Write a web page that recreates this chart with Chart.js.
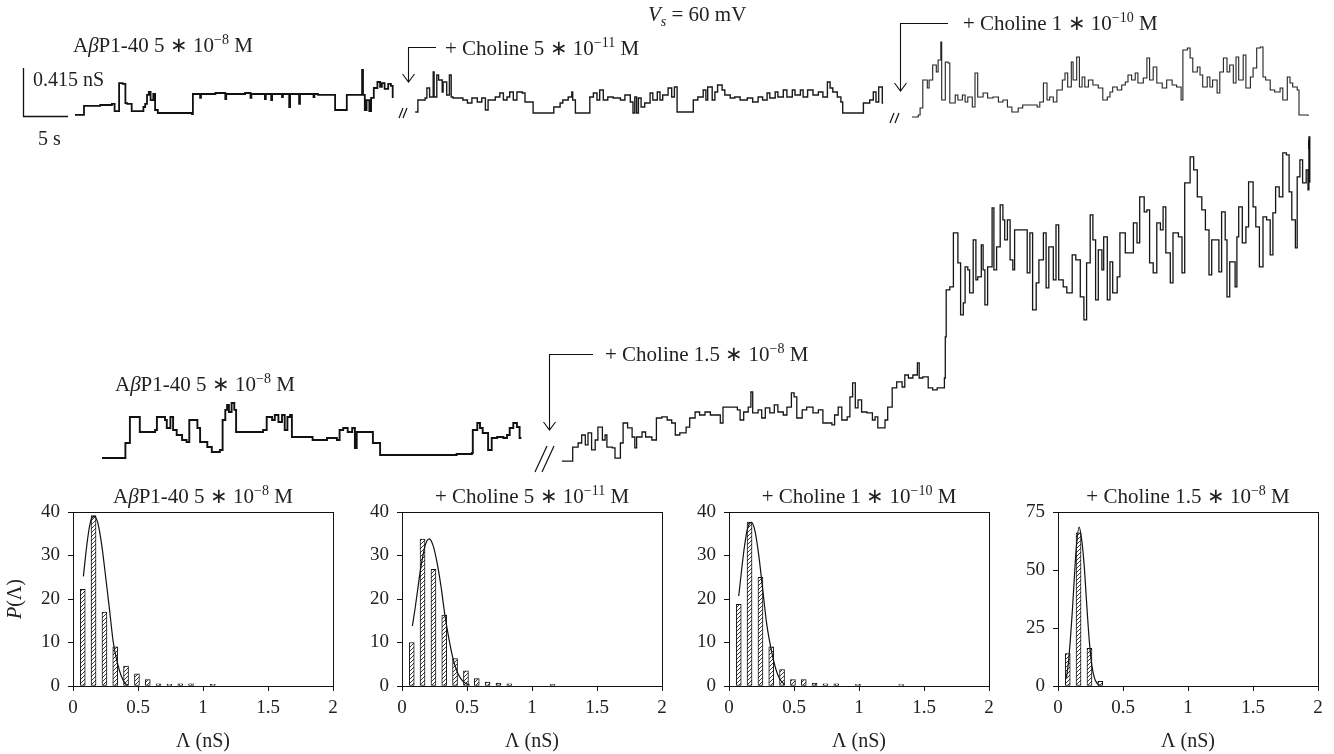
<!DOCTYPE html>
<html><head><meta charset="utf-8">
<script src="https://cdn.jsdelivr.net/npm/chart.js@4.4.1/dist/chart.umd.min.js"></script>
<style>
html,body{margin:0;padding:0;background:#fff;width:1334px;height:754px;overflow:hidden}
.box{position:absolute}
</style></head><body>
<div class="box" style="left:0;top:0;width:1334px;height:754px"><canvas id="traces" width="1334" height="754"></canvas></div>
<div class="box" id="hb0"><canvas id="h0" width="345" height="274"></canvas></div>
<div class="box" id="hb1"><canvas id="h1" width="345" height="274"></canvas></div>
<div class="box" id="hb2"><canvas id="h2" width="345" height="274"></canvas></div>
<div class="box" id="hb3"><canvas id="h3" width="345" height="274"></canvas></div>
<script>
// ---------- DATA: single-channel conductance traces [time (s), conductance (nS)] ----------
const traceControl1 = [[0.0,0.009],[1.0,0.087],[2.8,0.095],[4.1,0.104],[4.4,0.043],[4.9,0.285],[5.3,0.277],[5.6,0.112],[5.8,0.104],[6.3,0.043],[7.6,0.078],[7.8,0.104],[8.0,0.182],[8.2,0.208],[8.4,0.138],[8.7,0.190],[8.9,0.052],[9.2,0.026],[13.0,0.017],[13.1,0.190],[13.9,0.156],[14.0,0.190],[15.6,0.199],[16.7,0.147],[16.8,0.190],[18.9,0.199],[19.5,0.156],[19.6,0.190],[21.1,0.147],[21.2,0.190],[21.8,0.138],[21.9,0.190],[23.0,0.164],[23.1,0.190],[23.8,0.078],[23.9,0.190],[24.9,0.104],[25.0,0.190],[26.5,0.164],[26.6,0.190],[27.0,0.182],[28.9,0.052],[30.2,0.182],[31.9,0.398],[32.0,0.182],[32.2,0.052],[32.4,0.138],[32.7,0.043],[32.9,0.156],[33.2,0.242],[33.6,0.294],[33.9,0.251],[34.1,0.285],[34.4,0.234],[34.8,0.277],[35.1,0.260],[35.3,0.156]];
const traceCholine5e11 = [[37.8,0.035],[38.1,0.138],[38.9,0.156],[39.1,0.242],[39.4,0.164],[39.8,0.381],[39.9,0.164],[40.2,0.355],[40.4,0.311],[40.8,0.208],[40.9,0.294],[41.3,0.182],[41.6,0.355],[41.8,0.164],[42.0,0.156],[43.1,0.138],[43.6,0.112],[44.1,0.156],[44.7,0.121],[45.2,0.156],[45.6,0.052],[45.9,0.138],[46.7,0.164],[47.2,0.199],[47.6,0.138],[48.0,0.164],[48.3,0.208],[48.7,0.138],[49.1,0.208],[49.7,0.199],[50.0,0.121],[50.9,0.026],[53.2,0.078],[53.9,0.112],[54.2,0.138],[54.8,0.164],[55.2,0.208],[55.3,0.138],[55.6,0.026],[57.2,0.164],[57.6,0.199],[58.0,0.138],[58.3,0.225],[58.7,0.138],[59.2,0.164],[59.8,0.156],[60.6,0.138],[61.1,0.182],[61.7,0.121],[62.0,0.026],[62.2,0.164],[62.4,0.026],[62.6,0.156],[62.9,0.078],[63.3,0.112],[63.9,0.199],[64.2,0.138],[64.7,0.208],[65.0,0.138],[65.3,0.182],[65.9,0.242],[66.3,0.164],[66.6,0.251],[66.9,0.035],[68.7,0.138],[69.2,0.164],[69.8,0.225],[70.1,0.138],[70.3,0.251],[70.8,0.138],[71.1,0.208],[71.4,0.268],[71.9,0.225],[72.2,0.182],[72.8,0.156],[73.3,0.164],[73.9,0.138],[74.7,0.156],[75.3,0.121],[75.9,0.164],[76.4,0.138],[76.9,0.199],[77.2,0.156],[77.8,0.208],[78.1,0.164],[78.7,0.225],[79.1,0.164],[79.7,0.225],[80.0,0.182],[80.6,0.225],[80.9,0.164],[81.4,0.225],[82.0,0.182],[82.6,0.208],[83.1,0.164],[83.6,0.294],[83.9,0.242],[84.2,0.208],[84.7,0.164],[85.1,0.121],[85.3,0.026],[87.6,0.112],[88.3,0.138],[88.7,0.208],[89.0,0.121],[89.3,0.251],[89.7,0.112],[89.8,0.112]];
const traceCholine1e10 = [[93.0,-0.009],[93.7,0.009],[93.9,0.069],[94.2,0.311],[94.7,0.242],[94.9,0.311],[95.3,0.441],[95.7,0.381],[95.9,0.484],[96.2,0.640],[96.3,0.138],[96.7,0.467],[97.0,0.458],[97.2,0.112],[97.8,0.182],[98.1,0.138],[98.6,0.182],[98.9,0.121],[99.2,0.164],[99.7,0.078],[100.0,0.372],[100.3,0.164],[100.9,0.199],[101.4,0.156],[102.0,0.164],[102.6,0.121],[103.1,0.138],[103.6,0.078],[104.1,0.035],[104.8,0.069],[105.3,0.095],[106.9,0.078],[107.2,0.121],[107.6,0.285],[108.0,0.138],[108.3,0.164],[108.7,0.121],[109.1,0.225],[109.7,0.311],[110.0,0.372],[110.3,0.251],[110.7,0.467],[110.9,0.311],[111.3,0.510],[111.6,0.251],[111.9,0.337],[112.2,0.251],[112.6,0.311],[113.1,0.268],[113.7,0.242],[114.2,0.138],[114.7,0.164],[115.0,0.208],[115.3,0.251],[115.8,0.225],[116.3,0.268],[116.7,0.294],[117.0,0.355],[117.4,0.311],[117.8,0.372],[118.1,0.285],[118.7,0.329],[119.1,0.502],[119.4,0.311],[119.8,0.424],[120.2,0.285],[120.8,0.242],[121.3,0.311],[121.9,0.268],[122.4,0.251],[122.9,0.138],[123.1,0.571],[123.6,0.588],[123.9,0.502],[124.2,0.381],[124.7,0.424],[125.0,0.355],[125.3,0.251],[125.8,0.337],[126.1,0.251],[126.4,0.311],[126.9,0.199],[127.2,0.381],[127.6,0.502],[128.0,0.381],[128.3,0.441],[128.7,0.285],[129.0,0.510],[129.3,0.311],[129.8,0.528],[130.1,0.242],[130.6,0.337],[130.9,0.415],[131.3,0.588],[131.7,0.597],[132.0,0.337],[132.3,0.311],[132.8,0.225],[133.3,0.208],[133.9,0.242],[134.2,0.138],[134.7,0.337],[135.0,0.285],[135.3,0.251],[135.8,0.225],[136.0,0.009],[137.0,0.000]];
const traceEndMark = [[137.1,-0.208],[137.1,-0.285]];
const traceControl2 = [[0.0,0.017],[2.6,0.147],[3.1,0.372],[4.2,0.242],[5.9,0.260],[6.1,0.372],[7.0,0.346],[7.2,0.277],[7.6,0.372],[7.9,0.260],[8.3,0.216],[8.9,0.173],[9.4,0.156],[9.7,0.346],[10.6,0.277],[10.9,0.156],[11.7,0.112],[12.2,0.069],[13.1,0.087],[13.4,0.346],[13.7,0.433],[13.9,0.476],[14.1,0.415],[14.4,0.493],[14.7,0.433],[14.9,0.242],[17.9,0.260],[18.3,0.372],[18.9,0.346],[19.2,0.389],[19.6,0.329],[20.0,0.389],[20.3,0.260],[20.6,0.372],[20.9,0.389],[21.1,0.199],[23.4,0.173],[25.0,0.190],[26.1,0.173],[26.4,0.260],[26.8,0.277],[27.3,0.242],[27.8,0.277],[28.1,0.104],[28.3,0.242],[30.1,0.147],[30.9,0.043],[39.4,0.052],[41.1,0.061],[41.2,0.260],[41.7,0.320],[42.0,0.277],[42.3,0.234],[42.9,0.087],[43.3,0.190],[43.9,0.199],[44.6,0.190],[45.0,0.216],[45.3,0.277],[45.7,0.320],[46.1,0.285],[46.4,0.190],[46.6,0.190]];
const traceCholine15e8 = [[51.1,-0.009],[52.3,0.112],[52.9,0.147],[53.3,0.216],[53.7,0.130],[54.0,0.234],[54.4,0.087],[54.8,0.173],[55.1,0.285],[55.6,0.173],[55.9,0.216],[56.1,0.112],[56.7,0.104],[57.0,0.017],[57.6,0.147],[57.9,0.320],[58.4,0.277],[58.9,0.199],[59.2,0.104],[59.4,0.199],[60.0,0.242],[60.4,0.199],[61.1,0.173],[61.6,0.363],[62.2,0.372],[62.8,0.346],[63.3,0.320],[63.7,0.216],[64.2,0.234],[64.9,0.285],[65.3,0.363],[65.9,0.415],[66.4,0.389],[67.0,0.415],[67.6,0.389],[68.7,0.320],[69.0,0.458],[70.6,0.433],[70.9,0.346],[71.3,0.415],[71.8,0.458],[72.1,0.588],[72.3,0.407],[72.9,0.433],[73.3,0.363],[73.7,0.450],[74.2,0.407],[74.7,0.476],[75.1,0.415],[75.7,0.389],[76.1,0.458],[76.6,0.580],[76.9,0.545],[77.2,0.363],[77.8,0.433],[78.3,0.458],[79.0,0.407],[79.6,0.433],[80.1,0.320],[81.1,0.303],[81.4,0.389],[81.8,0.458],[82.2,0.346],[82.8,0.372],[83.1,0.545],[83.4,0.666],[83.7,0.450],[84.0,0.519],[84.4,0.415],[85.0,0.407],[85.6,0.346],[85.9,0.372],[86.2,0.277],[87.0,0.346],[87.3,0.458],[87.8,0.623],[88.3,0.675],[88.9,0.631],[89.2,0.735],[89.6,0.709],[90.1,0.735],[90.6,0.839],[90.8,0.709],[91.2,0.718],[91.8,0.623],[92.3,0.606],[92.8,0.623],[93.6,0.709],[93.7,1.064],[93.8,1.471],[94.2,1.496],[94.6,1.964],[95.1,1.704],[95.4,1.254],[95.7,1.358],[95.9,1.669],[96.2,1.644],[96.4,1.445],[96.8,1.903],[97.1,1.557],[97.3,1.583],[97.7,1.860],[97.9,1.644],[98.1,1.341],[98.4,1.669],[98.9,2.180],[99.1,1.644],[99.4,1.842],[99.8,2.206],[100.1,2.076],[100.3,1.903],[100.6,2.076],[100.9,1.730],[101.2,1.644],[101.4,1.990],[102.8,1.618],[103.1,1.964],[103.4,1.298],[103.8,1.531],[104.1,1.730],[104.6,1.964],[104.9,1.488],[105.2,1.842],[105.7,1.557],[106.0,2.033],[106.3,1.557],[106.8,1.496],[107.2,1.445],[107.8,1.773],[108.2,1.730],[108.7,1.410],[109.1,1.211],[109.4,1.704],[109.8,2.119],[110.1,1.903],[110.4,1.384],[110.7,1.817],[111.1,1.644],[111.3,1.929],[111.7,1.384],[112.0,1.713],[112.3,1.445],[112.8,1.583],[113.1,1.964],[113.7,1.791],[114.6,2.050],[115.0,1.877],[115.3,2.275],[115.8,2.145],[116.1,2.163],[116.4,1.704],[116.8,1.618],[117.2,2.050],[117.6,1.990],[117.9,2.188],[118.2,1.791],[118.7,1.531],[119.0,1.964],[119.6,1.929],[120.0,1.618],[120.3,2.396],[120.9,2.621],[121.3,2.509],[121.7,2.275],[122.2,2.163],[122.6,1.990],[123.0,1.600],[123.3,1.903],[124.1,1.626],[124.4,2.145],[124.8,1.903],[125.0,1.410],[125.3,1.713],[125.9,1.496],[126.1,1.929],[126.3,2.188],[126.7,1.877],[127.1,2.015],[127.4,2.405],[127.9,2.188],[128.2,2.015],[128.6,1.669],[129.0,2.102],[129.4,2.076],[129.8,1.773],[130.1,2.137],[130.4,2.361],[130.8,2.275],[131.2,2.656],[131.6,2.638],[131.9,2.318],[132.2,2.076],[132.6,1.834],[132.8,2.448],[133.1,2.595],[133.4,2.396],[133.8,2.509],[134.0,2.336],[134.1,2.794],[134.2,2.396]];

// ---------- DATA: conductance histograms ----------
const binCenters = [0.075,0.158,0.242,0.325,0.408,0.492,0.575,0.658,0.742,0.825,0.908,0.992,1.075,1.158,1.242,1.325];
const histControl    = [22.2,39.2,17.0,9.0,4.6,2.8,1.5,0.5,0.4,0.5,0.5,null,0.4,null,null,null];
const histCholine5e11 = [10.0,33.8,26.8,16.3,6.3,3.5,1.7,0.9,0.7,0.5,null,null,null,0.4,null,null];
const histCholine1e10 = [18.8,37.7,25.0,9.0,3.8,1.5,1.5,0.7,0.5,0.5,null,0.4,null,null,null,0.3];
const histCholine15e8 = [14.0,66.0,16.2,2.0,null,null,null,null,null,null,null,null,null,null,null,null];
const fitControlX = [0.08,0.10,0.12,0.14,0.165,0.19,0.22,0.25,0.28,0.31,0.34,0.37,0.40,0.42];
const fitControlY = [25.2,30.8,35.4,38.3,39.0,37.6,32.6,25.4,17.8,10.0,5.5,2.4,0.6,0.2];
const fit5e11X = [0.08,0.10,0.12,0.14,0.16,0.18,0.21,0.24,0.27,0.30,0.33,0.36,0.39,0.42,0.45,0.48,0.52];
const fit5e11Y = [13.8,17.7,22.0,26.3,29.8,32.5,33.8,32.2,28.3,22.9,16.3,11.0,6.6,3.6,1.8,0.8,0.2];
const fit1e10X = [0.075,0.10,0.12,0.14,0.172,0.20,0.23,0.26,0.29,0.33,0.36,0.39,0.43];
const fit1e10Y = [20.7,27.5,32.3,35.9,37.6,35.6,29.8,22.0,14.3,7.6,3.9,1.6,0.3];
const fit15e8X = [0.065,0.08,0.095,0.11,0.125,0.14,0.162,0.18,0.20,0.22,0.24,0.26,0.28,0.30,0.32];
const fit15e8Y = [3.5,10,20,32,46,59,68.5,64,53,36,20,9,3.5,1.2,0.3];
const xTicks = [0,0.5,1,1.5,2];
const xTickLabels = ['0','0.5','1','1.5','2'];

// ---------- layout / style ----------
const SERIF = "'Liberation Serif','Times New Roman',serif";
const TXT = '#222';
Chart.defaults.font.family = SERIF;
Chart.defaults.font.size = 19;
Chart.defaults.color = TXT;
const W = 1334, H = 754;
const PX_PER_S = 45 / 5;        // 5 s scale bar
const PX_PER_NS = 48 / 0.415;   // 0.415 nS scale bar
const ROW1 = {x0: 75, y0: 116};
const ROW2 = {x0: 102, y0: 460};

function fontFor(style, size) {
  const small = style === 'sup' || style === 'sub' || style === 'isub';
  const sz = small ? Math.round(size * 0.68) : size;
  const it = style === 'i' || style === 'isub';
  return (it ? 'italic ' : '') + sz + 'px ' + SERIF;
}
function drawRich(ctx, parts, x, y, align, size) {
  size = size || 21;
  const widths = []; let total = 0;
  for (const [t, s] of parts) { ctx.font = fontFor(s, size); const w = ctx.measureText(t).width; widths.push(w); total += w; }
  let cx = align === 'center' ? x - total / 2 : x;
  ctx.textAlign = 'left'; ctx.textBaseline = 'alphabetic'; ctx.fillStyle = TXT;
  parts.forEach(([t, s], i) => {
    ctx.font = fontFor(s, size);
    let dy = 0;
    if (s === 'sup') dy = -size * 0.4;
    if (s === 'sub' || s === 'isub') dy = size * 0.22;
    ctx.fillText(t, cx, y + dy);
    cx += widths[i];
  });
}
const LBL_AB = [['A','n'],['β','i'],['P1-40 5 ∗ 10','n'],['−8','sup'],[' M','n']];
const labels = [
  {x: 73, y: 52, size: 21, parts: LBL_AB},
  {x: 33, y: 86, size: 20, parts: [['0.415 nS','n']]},
  {x: 38, y: 145, size: 20, parts: [['5 s','n']]},
  {x: 648, y: 21, size: 21, parts: [['V','i'],['s','isub'],[' = 60 mV','n']]},
  {x: 445, y: 55, size: 21, parts: [['+ Choline 5 ∗ 10','n'],['−11','sup'],[' M','n']]},
  {x: 963, y: 30, size: 21, parts: [['+ Choline 1 ∗ 10','n'],['−10','sup'],[' M','n']]},
  {x: 115, y: 391, size: 21, parts: LBL_AB},
  {x: 605, y: 361, size: 21, parts: [['+ Choline 1.5 ∗ 10','n'],['−8','sup'],[' M','n']]}
];
const arrows = [
  {x: 408, top: 47, tip: 82, x2: 436},
  {x: 900, top: 23, tip: 91, x2: 948},
  {x: 549, top: 354, tip: 430, x2: 593}
];
const breaks = [
  {x: 399, y: 118, dx: 4, dy: -10, gap: 4},
  {x: 890, y: 123, dx: 4, dy: -10, gap: 5},
  {x: 535, y: 472, dx: 12, dy: -26, gap: 7}
];

const decor = {
  id: 'decor',
  afterDraw(chart) {
    const ctx = chart.ctx;
    ctx.save();
    ctx.strokeStyle = '#111'; ctx.lineWidth = 1.3;
    ctx.beginPath(); ctx.moveTo(23.5, 68); ctx.lineTo(23.5, 116.5); ctx.lineTo(68, 116.5); ctx.stroke();
    ctx.lineWidth = 1.1;
    for (const a of arrows) {
      ctx.beginPath();
      ctx.moveTo(a.x2, a.top + 0.5); ctx.lineTo(a.x + 0.5, a.top + 0.5); ctx.lineTo(a.x + 0.5, a.tip);
      ctx.moveTo(a.x + 0.5 - 6, a.tip - 8); ctx.lineTo(a.x + 0.5, a.tip); ctx.lineTo(a.x + 0.5 + 6, a.tip - 8);
      ctx.stroke();
    }
    ctx.lineWidth = 1.2;
    for (const b of breaks) {
      ctx.beginPath();
      ctx.moveTo(b.x, b.y); ctx.lineTo(b.x + b.dx, b.y + b.dy);
      ctx.moveTo(b.x + b.gap, b.y); ctx.lineTo(b.x + b.gap + b.dx, b.y + b.dy);
      ctx.stroke();
    }
    for (const l of labels) drawRich(ctx, l.parts, l.x, l.y, 'left', l.size);
    ctx.restore();
  }
};

const toXY = arr => arr.map(([x, y]) => ({x, y}));
function traceDs(arr, row, width, color) {
  return {
    data: toXY(arr), xAxisID: row === 1 ? 'x1' : 'x2', yAxisID: row === 1 ? 'y1' : 'y2',
    stepped: true, borderColor: color, borderWidth: width, pointRadius: 0, fill: false
  };
}
new Chart(document.getElementById('traces'), {
  type: 'line',
  data: {datasets: [
    traceDs(traceControl1, 1, 1.8, '#111'),
    traceDs(traceCholine5e11, 1, 1.4, '#1a1a1a'),
    traceDs(traceCholine1e10, 1, 1.1, '#222'),
    traceDs(traceEndMark, 1, 1.6, '#111'),
    traceDs(traceControl2, 2, 1.9, '#111'),
    traceDs(traceCholine15e8, 2, 1.3, '#151515')
  ]},
  options: {
    responsive: false, animation: false, events: [],
    layout: {padding: 0},
    plugins: {legend: {display: false}, tooltip: {enabled: false}},
    scales: {
      x1: {type: 'linear', display: false, min: -ROW1.x0 / PX_PER_S, max: (W - ROW1.x0) / PX_PER_S},
      y1: {type: 'linear', display: false, min: -(H - ROW1.y0) / PX_PER_NS, max: ROW1.y0 / PX_PER_NS},
      x2: {type: 'linear', display: false, min: -ROW2.x0 / PX_PER_S, max: (W - ROW2.x0) / PX_PER_S},
      y2: {type: 'linear', display: false, min: -(H - ROW2.y0) / PX_PER_NS, max: ROW2.y0 / PX_PER_NS}
    }
  },
  plugins: [decor]
});

// ---------- histograms ----------
function hatch() {
  const c = document.createElement('canvas'); c.width = 4; c.height = 4;
  const g = c.getContext('2d');
  g.fillStyle = '#fff'; g.fillRect(0, 0, 4, 4);
  g.strokeStyle = '#222'; g.lineWidth = 0.9;
  g.beginPath(); g.moveTo(-1, 5); g.lineTo(5, -1); g.stroke();
  return g.createPattern(c, 'repeat');
}
const PLOT_LEFT = [73, 402, 729, 1058];
const PLOT_W = 260;
const CANVAS_W = 345;
function makeHist(i, values, fx, fy, yMax, yStep, title, yTitle) {
  const box = document.getElementById('hb' + i);
  const left = PLOT_LEFT[i] - 73;
  box.style.left = left + 'px'; box.style.top = '480px';
  box.style.width = CANVAS_W + 'px'; box.style.height = '274px';
  const bars = [];
  binCenters.forEach((x, k) => { if (values[k] !== null) bars.push({x, y: values[k]}); });
  const fit = fx.map((x, k) => ({x, y: fy[k]}));
  const pattern = hatch();
  const frame = {
    id: 'frame' + i,
    afterDraw(chart) {
      const {ctx, chartArea: a} = chart;
      ctx.save();
      ctx.strokeStyle = '#111'; ctx.lineWidth = 1;
      ctx.strokeRect(a.left + 0.5, a.top + 0.5, a.right - a.left, a.bottom - a.top);
      drawRich(ctx, title, (a.left + a.right) / 2, 23, 'center', 21);
      if (yTitle) {
        ctx.translate(14, (a.top + a.bottom) / 2);
        ctx.rotate(-Math.PI / 2);
        drawRich(ctx, [['P','i'],['(Λ)','n']], 0, 7, 'center', 20);
      }
      ctx.restore();
    }
  };
  new Chart(document.getElementById('h' + i), {
    type: 'bar',
    data: {datasets: [
      {type: 'line', data: fit, borderColor: '#111', borderWidth: 1.2, pointRadius: 0,
       cubicInterpolationMode: 'monotone', fill: false, order: 0},
      {type: 'bar', data: bars, backgroundColor: pattern, borderColor: '#111', borderWidth: 1,
       borderSkipped: false, barThickness: 5, order: 1}
    ]},
    options: {
      responsive: false, animation: false, events: [],
      layout: {padding: {top: 32, right: CANVAS_W - 73 - PLOT_W, left: 0, bottom: 0}},
      plugins: {legend: {display: false}, tooltip: {enabled: false}},
      scales: {
        x: {type: 'linear', min: 0, max: 2, offset: false,
            afterFit: s => { s.height = 68; },
            afterBuildTicks: s => { s.ticks = xTicks.map(v => ({value: v})); },
            ticks: {padding: 6, color: TXT, maxRotation: 0, font: {size: 19},
                    callback: (v) => xTickLabels[xTicks.indexOf(v)] ?? String(v)},
            grid: {display: true, drawOnChartArea: false, drawTicks: true, tickLength: 5, color: '#111', offset: false},
            border: {display: true, color: '#111', width: 1},
            title: {display: true, text: 'Λ (nS)', color: TXT, font: {size: 20}, padding: {top: 0, bottom: 0}}},
        y: {type: 'linear', min: 0, max: yMax,
            afterFit: s => { s.width = 73; },
            ticks: {stepSize: yStep, padding: 8, color: TXT, font: {size: 19}},
            grid: {display: true, drawOnChartArea: false, drawTicks: true, tickLength: 5, color: '#111'},
            border: {display: true, color: '#111', width: 1}}
      }
    },
    plugins: [frame]
  });
}
makeHist(0, histControl, fitControlX, fitControlY, 40, 10, LBL_AB, true);
makeHist(1, histCholine5e11, fit5e11X, fit5e11Y, 40, 10, [['+ Choline 5 ∗ 10','n'],['−11','sup'],[' M','n']], false);
makeHist(2, histCholine1e10, fit1e10X, fit1e10Y, 40, 10, [['+ Choline 1 ∗ 10','n'],['−10','sup'],[' M','n']], false);
makeHist(3, histCholine15e8, fit15e8X, fit15e8Y, 75, 25, [['+ Choline 1.5 ∗ 10','n'],['−8','sup'],[' M','n']], false);
</script>
</body></html>
